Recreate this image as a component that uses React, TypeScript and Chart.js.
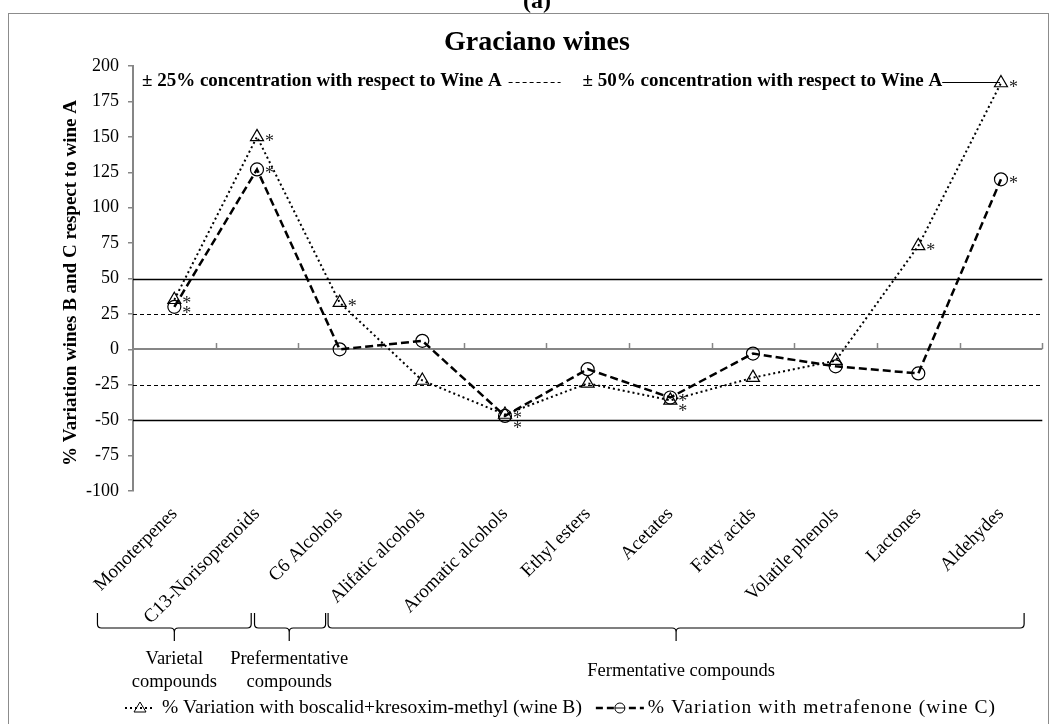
import React, { useEffect, useRef } from "react";
import { Chart, registerables } from "chart.js";

Chart.register(...registerables);

const FONT = '"Liberation Serif", "Times New Roman", Times, serif';

const categories = [
  "Monoterpenes",
  "C13-Norisoprenoids",
  "C6 Alcohols",
  "Alifatic alcohols",
  "Aromatic alcohols",
  "Ethyl esters",
  "Acetates",
  "Fatty acids",
  "Volatile phenols",
  "Lactones",
  "Aldehydes",
];

const wineB = [35, 150, 33, -22, -46, -24, -36, -20, -8, 73, 188];
const wineC = [30, 127, 0, 6, -47, -14, -34, -3, -12, -17, 120];

const sigB = [true, true, true, false, true, false, true, false, false, true, true];
const sigC = [true, true, false, false, true, false, true, false, false, false, true];

const labelB = "% Variation with boscalid+kresoxim-methyl (wine B)";
const labelC = "% Variation with metrafenone (wine C)";

const yMin = -100;
const yMax = 200;
const yStep = 25;

const limitsSolid = [50, -50];
const limitsDashed = [25, -25];

const legend25 = "\u00B1 25% concentration with respect to Wine A";
const legend50 = "\u00B1 50% concentration with respect to Wine A";

// compound groups: span in category units, notch position, label lines
const groupFrom = [-0.93, 0.97, 1.86];
const groupTo = [0.93, 1.83, 10.28];
const groupMid = [0, 1.39, 6.07];
const groupLabels = [["Varietal", "compounds"], ["Prefermentative", "compounds"], ["Fermentative compounds"]];

const chartTitle = "Graciano wines";
const panelLabel = "(a)";
const yTitle = "% Variation wines B and C respect to wine A";

function hline(ctx: CanvasRenderingContext2D, x1: number, x2: number, y: number) {
  ctx.beginPath();
  ctx.moveTo(x1, y);
  ctx.lineTo(x2, y);
  ctx.stroke();
}

function drawBrace(ctx: CanvasRenderingContext2D, x1: number, x2: number, xm: number, yTop: number, yLine: number, yNotch: number) {
  const r = 4;
  ctx.beginPath();
  ctx.moveTo(x1, yTop);
  ctx.lineTo(x1, yLine - r);
  ctx.quadraticCurveTo(x1, yLine, x1 + r, yLine);
  ctx.lineTo(xm - r, yLine);
  ctx.quadraticCurveTo(xm, yLine, xm, yLine + r);
  ctx.lineTo(xm, yNotch);
  ctx.moveTo(xm, yLine + r);
  ctx.quadraticCurveTo(xm, yLine, xm + r, yLine);
  ctx.lineTo(x2 - r, yLine);
  ctx.quadraticCurveTo(x2, yLine, x2, yLine - r);
  ctx.lineTo(x2, yTop);
  ctx.stroke();
}

const overlay = {
  id: "overlay",
  beforeDatasetsDraw(chart: any) {
    const { ctx, chartArea: a, scales } = chart;
    const y = scales.y;
    const x = scales.x;
    ctx.save();
    ctx.strokeStyle = "#000";
    limitsSolid.forEach((v) => {
      ctx.lineWidth = 1.5;
      ctx.setLineDash([]);
      hline(ctx, a.left, a.right, Math.round(y.getPixelForValue(v)) + 0.5);
    });
    limitsDashed.forEach((v) => {
      ctx.lineWidth = 1.2;
      ctx.setLineDash([4, 3]);
      hline(ctx, a.left, a.right, Math.round(y.getPixelForValue(v)) + 0.5);
    });
    ctx.setLineDash([]);
    ctx.strokeStyle = "#868686";
    ctx.lineWidth = 2;
    const y0 = Math.round(y.getPixelForValue(0));
    hline(ctx, a.left, a.right, y0);
    ctx.lineWidth = 1.5;
    for (let i = 0; i < categories.length; i++) {
      const xb = i < categories.length - 1 ? (x.getPixelForValue(i) + x.getPixelForValue(i + 1)) / 2 : a.right - 0.5;
      ctx.beginPath();
      ctx.moveTo(Math.round(xb) + 0.5, y0);
      ctx.lineTo(Math.round(xb) + 0.5, y0 - 6);
      ctx.stroke();
    }
    ctx.restore();
  },
  afterDatasetsDraw(chart: any) {
    const { ctx, scales } = chart;
    const x = scales.x;
    const y = scales.y;
    ctx.save();
    ctx.fillStyle = "#222";
    ctx.font = `18px ${FONT}`;
    ctx.textAlign = "left";
    ctx.textBaseline = "middle";
    for (let i = 0; i < categories.length; i++) {
      const marks: number[] = [];
      if (sigB[i]) marks.push(y.getPixelForValue(wineB[i]));
      if (sigC[i]) marks.push(y.getPixelForValue(wineC[i]));
      marks.sort((p, q) => p - q);
      if (marks.length === 2 && marks[1] - marks[0] < 10) marks[1] = marks[0] + 10;
      const px = x.getPixelForValue(i) + 8;
      marks.forEach((py) => ctx.fillText("*", px, py + 5));
    }
    ctx.restore();
  },
  afterDraw(chart: any) {
    const { ctx, scales } = chart;
    const x = scales.x;
    ctx.save();
    // outer frame
    ctx.strokeStyle = "#8c8c8c";
    ctx.lineWidth = 1;
    ctx.strokeRect(8.5, 13.5, 1040, 720);

    ctx.fillStyle = "#000";
    ctx.textAlign = "center";
    // panel label
    ctx.font = `bold 24px ${FONT}`;
    ctx.textBaseline = "alphabetic";
    ctx.fillText(panelLabel, 537, 8);
    // title
    ctx.font = `bold 28px ${FONT}`;
    ctx.textBaseline = "middle";
    ctx.fillText(chartTitle, 537, 43);

    // y title
    ctx.save();
    ctx.translate(71, 283);
    ctx.rotate(-Math.PI / 2);
    ctx.font = `bold 19px ${FONT}`;
    ctx.fillText(yTitle, 0, 0);
    ctx.restore();

    // in-plot legend of limits
    ctx.font = `bold 19px ${FONT}`;
    ctx.textAlign = "left";
    const ly = 81;
    let cx = 142;
    ctx.fillText(legend25, cx, ly);
    cx += ctx.measureText(legend25).width + 7;
    ctx.strokeStyle = "#000";
    ctx.lineWidth = 1;
    ctx.setLineDash([4, 3]);
    hline(ctx, cx, cx + 52, ly + 1.5);
    ctx.setLineDash([]);
    cx += 74;
    ctx.fillText(legend50, cx, ly);
    cx += ctx.measureText(legend50).width;
    ctx.lineWidth = 1.2;
    hline(ctx, cx, 1000, ly + 1.5);

    // braces and group labels
    ctx.strokeStyle = "#000";
    ctx.lineWidth = 1.2;
    ctx.font = `18.5px ${FONT}`;
    ctx.textAlign = "center";
    for (let g = 0; g < groupLabels.length; g++) {
      const x1 = x.getPixelForValue(groupFrom[g]);
      const x2 = x.getPixelForValue(groupTo[g]);
      const xm = x.getPixelForValue(groupMid[g]);
      drawBrace(ctx, x1, x2, xm, 613, 628, 641);
      const lines = groupLabels[g];
      if (lines.length === 2) {
        ctx.fillText(lines[0], xm, 659);
        ctx.fillText(lines[1], xm, 682);
      } else {
        ctx.fillText(lines[0], xm + 5, 671);
      }
    }

    // bottom legend
    const by = 708;
    ctx.textAlign = "left";
    ctx.font = `19.5px ${FONT}`;
    let bx = 125;
    ctx.lineWidth = 2;
    ctx.setLineDash([2, 3]);
    hline(ctx, bx, bx + 30, by);
    ctx.setLineDash([]);
    ctx.lineWidth = 1;
    ctx.beginPath();
    ctx.moveTo(bx + 15, by - 6);
    ctx.lineTo(bx + 21, by + 4);
    ctx.lineTo(bx + 9, by + 4);
    ctx.closePath();
    ctx.stroke();
    bx += 37;
    ctx.fillText(labelB, bx, by);
    bx += ctx.measureText(labelB).width + 14;
    ctx.lineWidth = 2.5;
    ctx.setLineDash([7, 4]);
    hline(ctx, bx, bx + 48, by);
    ctx.setLineDash([]);
    ctx.fillStyle = "#fff";
    ctx.lineWidth = 1;
    ctx.beginPath();
    ctx.arc(bx + 24, by, 5, 0, Math.PI * 2);
    ctx.fill();
    ctx.stroke();
    hline(ctx, bx + 19, bx + 29, by);
    ctx.fillStyle = "#000";
    bx += 52;
    const natural = ctx.measureText(labelC).width;
    const target = 995 - bx;
    const spacing = Math.max(0, Math.min(1.2, (target - natural) / (labelC.length - 1)));
    (ctx as any).letterSpacing = `${spacing}px`;
    ctx.fillText(labelC, bx, by);
    (ctx as any).letterSpacing = "0px";
    ctx.restore();
  },
};

export default function App() {
  const ref = useRef<HTMLCanvasElement | null>(null);
  useEffect(() => {
    if (!ref.current) return;
    const chart = new Chart(ref.current, {
      type: "line",
      data: {
        labels: categories,
        datasets: [
          {
            label: labelB,
            data: wineB,
            borderColor: "#000",
            borderWidth: 2,
            borderDash: [2, 3],
            pointStyle: "triangle",
            pointRadius: 7.5,
            pointBorderWidth: 1.2,
            pointBorderColor: "#000",
            pointBackgroundColor: "rgba(0,0,0,0)",
            tension: 0,
            fill: false,
          },
          {
            label: labelC,
            data: wineC,
            borderColor: "#000",
            borderWidth: 2.5,
            borderDash: [8, 4],
            pointStyle: "circle",
            pointRadius: 6.5,
            pointBorderWidth: 1.2,
            pointBorderColor: "#000",
            pointBackgroundColor: "rgba(0,0,0,0)",
            tension: 0,
            fill: false,
          },
        ],
      },
      options: {
        animation: false,
        responsive: false,
        maintainAspectRatio: false,
        layout: { padding: { top: 66, right: 5, left: 0, bottom: 0 } },
        plugins: {
          legend: { display: false },
          tooltip: { enabled: false },
          title: { display: false },
        },
        scales: {
          x: {
            type: "category",
            offset: true,
            grid: { display: false },
            border: { display: false },
            ticks: {
              autoSkip: false,
              maxRotation: 45,
              minRotation: 45,
              padding: 4,
              color: "#000",
              font: { family: FONT, size: 19 },
            },
            afterFit: (s: any) => {
              s.height = 233;
            },
          },
          y: {
            min: yMin,
            max: yMax,
            ticks: {
              stepSize: yStep,
              padding: 9,
              color: "#000",
              font: { family: FONT, size: 18 },
            },
            grid: {
              display: true,
              drawOnChartArea: false,
              drawTicks: true,
              tickLength: 5,
              color: "#868686",
              lineWidth: 1.5,
            },
            border: { display: true, color: "#868686", width: 2 },
            afterFit: (s: any) => {
              s.width = 133;
            },
          },
        },
      },
      plugins: [overlay],
    } as any);
    return () => chart.destroy();
  }, []);
  return (
    <div style={{ position: "absolute", left: 0, top: 0, width: 1051, height: 724, background: "#fff" }}>
      <canvas ref={ref} width={1051} height={724} style={{ display: "block" }} />
    </div>
  );
}
